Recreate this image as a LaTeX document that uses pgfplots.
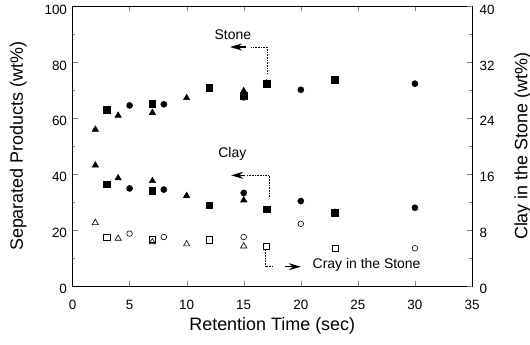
\documentclass[border=0pt]{standalone}
\usepackage{pgfplots}
\pgfplotsset{compat=1.18}
\usepackage{fontspec}
\setmainfont{Liberation Sans}
\usetikzlibrary{arrows.meta}
\begin{document}
\begin{tikzpicture}
\pgfplotsset{
  every axis/.append style={
    scale only axis, width=399.5bp, height=279.5bp,
    xmin=0, xmax=35,
    tick align=inside,
    major tick length=5bp, minor tick length=3bp,
    /pgf/number format/assume math mode=true,
    tick label style={font=\fontsize{13.5}{15}\selectfont},
    label style={font=\fontsize{18}{20}\selectfont},
    every axis plot/.append style={only marks, mark options={line width=0.6pt}},
  }
}
\begin{axis}[name=ax,
  ymin=0, ymax=100,
  xtick={0,5,...,35}, ytick={0,20,...,100},
  minor ytick={10,30,50,70,90},
  ytick pos=left, xtick pos=both,
  xticklabel style={yshift=-11bp},
  yticklabel style={yshift=-3bp, xshift=-2bp},
  xlabel={Retention Time (sec)},
  ylabel={Separated Products (wt\%)},
  xlabel style={yshift=-1bp},
  ylabel style={yshift=11bp},
]
% Stone
\addplot[mark=triangle*, mark size=3.6pt] coordinates {(2,56) (4,61) (7,62) (10,67.3) (15,69.8) (17,72.6)};
\addplot[mark=square*, mark size=3.3pt] coordinates {(3,63) (7,65.2) (12,71) (15,68) (17,72.4) (23,73.8)};
\addplot[mark=*, mark size=3pt] coordinates {(5,64.6) (8,65) (15,67.5) (20,70.2) (30,72.4)};
% Clay
\addplot[mark=triangle*, mark size=3.6pt] coordinates {(2,43.2) (4,38.6) (7,37.6) (10,32.3) (15,30.7)};
\addplot[mark=square*, mark size=3.3pt] coordinates {(3,36.4) (7,34) (12,28.9) (17,27.5) (23,26.2)};
\addplot[mark=*, mark size=3pt] coordinates {(5,34.9) (8,34.5) (15,33.3) (20,30.4) (23,26.5) (30,28)};
% annotations
\node[font=\fontsize{14}{16}\selectfont] at (axis cs:14.05,90) {Stone};
\draw[densely dotted, line width=0.6pt] (axis cs:17.05,76.1) -- (axis cs:17.05,85.5) -- (axis cs:15.6,85.5);
\draw[line width=1.3pt, -{Stealth[length=12bp,width=7bp]}] (axis cs:15.2,85.5) -- (axis cs:13.8,85.5);
\node[font=\fontsize{14}{16}\selectfont] at (axis cs:14.0,47.2) {Clay};
\draw[densely dotted, line width=0.6pt] (axis cs:17.23,31.9) -- (axis cs:17.23,39.6) -- (axis cs:15.3,39.6);
\draw[line width=1.3pt, -{Stealth[length=12bp,width=7bp]}] (axis cs:15.15,39.6) -- (axis cs:13.9,39.6);
\draw[densely dotted, line width=0.6pt] (axis cs:16.86,12.9) -- (axis cs:16.86,6.9) -- (axis cs:17.6,6.9);
\draw[line width=1.3pt, -{Stealth[length=12bp,width=7bp]}] (axis cs:18.6,6.9) -- (axis cs:20.0,6.9);
\node[anchor=west, font=\fontsize{14}{16}\selectfont, inner sep=0pt] at (axis cs:21.03,7.6) {Cray in the Stone};
\end{axis}
\begin{axis}[
  ymin=0, ymax=40,
  axis x line=none, axis y line*=right,
  ytick={0,8,...,40}, minor ytick={4,12,20,28,36},
  ytick pos=right,
  yticklabel style={yshift=-3bp, xshift=4bp},
  ylabel={Clay in the Stone (wt\%)},
  ylabel style={yshift=-13bp},
]
\addplot[mark=triangle, mark size=3.6pt] coordinates {(2,9.05) (4,6.8) (7,6.3) (10,6.0) (15,5.7)};
\addplot[mark=square, mark size=3.2pt] coordinates {(3,6.96) (7,6.7) (12,6.6) (17,5.7) (23,5.4)};
\addplot[mark=o, mark size=2.8pt] coordinates {(5,7.5) (8,7.0) (15,7.0) (20,8.9) (30,5.4)};
\end{axis}
\pgfresetboundingbox
\path ([xshift=-72.5bp,yshift=-59bp]ax.south west) rectangle ([xshift=58bp,yshift=6.5bp]ax.north east);
\end{tikzpicture}
\end{document}
